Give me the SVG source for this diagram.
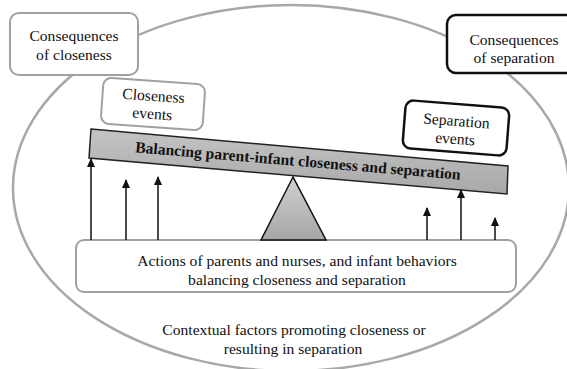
<svg xmlns="http://www.w3.org/2000/svg" width="567" height="369" viewBox="0 0 567 369">
<defs>
<style>
text{font-family:'Liberation Serif','Times New Roman',serif;font-size:15.6px;fill:#111;text-anchor:middle}
.b{font-weight:bold}
.gbox{fill:#fff;stroke:#a0a0a0;stroke-width:2}
.kbox{fill:#fff;stroke:#111;stroke-width:2.5}
.arr{stroke:#111;stroke-width:1.5;fill:none;marker-end:url(#ah)}
</style>
<marker id="ah" markerWidth="9" markerHeight="8" refX="8" refY="4" orient="auto" markerUnits="userSpaceOnUse" viewBox="0 0 9 8">
<path d="M0,0 L9,4 L0,8 Z" fill="#111"/>
</marker>
<linearGradient id="beamg" x1="0" y1="0" x2="0" y2="1">
<stop offset="0" stop-color="#c4c4c4"/>
<stop offset="1" stop-color="#a8a8a8"/>
</linearGradient>
<linearGradient id="trig" x1="0" y1="0" x2="0" y2="1">
<stop offset="0" stop-color="#d0d0d0"/>
<stop offset="1" stop-color="#a6a6a6"/>
</linearGradient>
</defs>
<rect width="567" height="369" fill="#fff"/>
<g id="context">
<ellipse cx="291" cy="188" rx="278" ry="183" fill="none" stroke="#a8a8a8" stroke-width="2.5"/>
<text x="294" y="335">Contextual factors promoting closeness or</text>
<text x="293" y="354">resulting in separation</text>
</g>
<g id="cons-closeness">
<rect class="gbox" x="10" y="13" width="128" height="62" rx="9"/>
<text x="74" y="41">Consequences</text>
<text x="74" y="60">of closeness</text>
</g>
<g id="cons-separation">
<rect class="kbox" x="447" y="15" width="134" height="58" rx="9"/>
<text x="514" y="45">Consequences</text>
<text x="514" y="63">of separation</text>
</g>
<g id="closeness-events" transform="rotate(4 153 104)">
<rect class="gbox" x="102" y="81" width="102" height="46" rx="8"/>
<text x="153" y="101">Closeness</text>
<text x="153" y="119">events</text>
</g>
<g id="separation-events" transform="rotate(4.5 456 128)">
<rect class="kbox" x="404" y="104" width="104" height="48" rx="8"/>
<text x="456" y="126">Separation</text>
<text x="456" y="144">events</text>
</g>
<g id="actions">
<rect class="gbox" x="76" y="240" width="440" height="52" rx="8"/>
<text x="297" y="266">Actions of parents and nurses, and infant behaviors</text>
<text x="297" y="285">balancing closeness and separation</text>
</g>
<g id="fulcrum">
<polygon points="293,177 261,240 326,240" fill="url(#trig)" stroke="#111" stroke-width="1.5"/>
</g>
<g id="beam">
<polygon points="91,129 508,166 507,194 89,158" fill="url(#beamg)" stroke="#222" stroke-width="1.5"/>
<text class="b" x="298" y="166" transform="rotate(4.8 298 161)">Balancing parent-infant closeness and separation</text>
</g>
<g id="connectors">
<line class="arr" x1="91" y1="240" x2="91" y2="159"/>
<line class="arr" x1="126" y1="240" x2="126" y2="180"/>
<line class="arr" x1="158" y1="240" x2="158" y2="177"/>
<line class="arr" x1="427" y1="240" x2="427" y2="208"/>
<line class="arr" x1="461" y1="240" x2="461" y2="190"/>
<line class="arr" x1="495" y1="240" x2="495" y2="218"/>
</g>
</svg>
